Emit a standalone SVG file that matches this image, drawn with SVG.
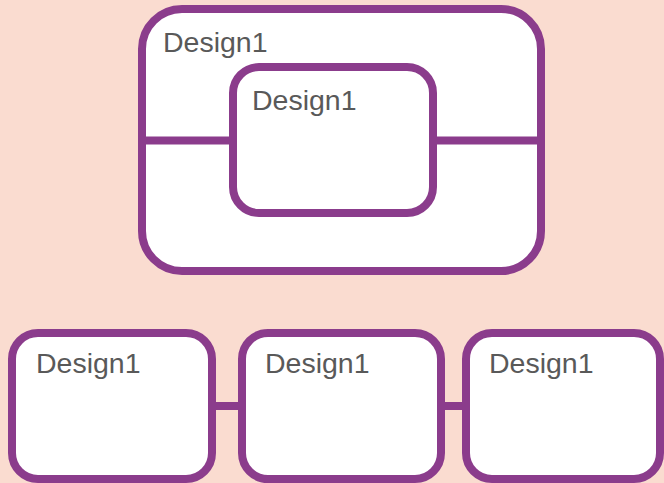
<svg xmlns="http://www.w3.org/2000/svg" width="664" height="483" viewBox="0 0 664 483">
<style>
.box{fill:#ffffff;stroke:#8b3c8c;stroke-width:8}
.ln{stroke:#8b3c8c;stroke-width:8;fill:none}
.t{font-family:"Liberation Sans",Arial,sans-serif;font-size:28.5px;fill:#595959}
</style>
<rect x="0" y="0" width="664" height="483" fill="#fadcd0"/>
<g id="outer">
<rect class="box" x="142" y="9" width="399" height="262" rx="40" ry="40"/>
<text class="t" x="163" y="52">Design1</text>
</g>
<g id="connectors">
<line class="ln" x1="146" y1="140.5" x2="233" y2="140.5"/>
<line class="ln" x1="433" y1="140.5" x2="537" y2="140.5"/>
<line class="ln" x1="212" y1="406" x2="242" y2="406"/>
<line class="ln" x1="441" y1="406" x2="466" y2="406"/>
</g>
<g id="inner">
<rect class="box" x="233" y="67" width="200" height="146" rx="26" ry="26"/>
<text class="t" x="252" y="110">Design1</text>
</g>
<g id="box1">
<rect class="box" x="12" y="333" width="200" height="146" rx="26" ry="26"/>
<text class="t" x="36" y="373">Design1</text>
</g>
<g id="box2">
<rect class="box" x="242" y="333" width="199" height="146" rx="26" ry="26"/>
<text class="t" x="265" y="373">Design1</text>
</g>
<g id="box3">
<rect class="box" x="466" y="333" width="194" height="146" rx="26" ry="26"/>
<text class="t" x="489" y="373">Design1</text>
</g>
</svg>
